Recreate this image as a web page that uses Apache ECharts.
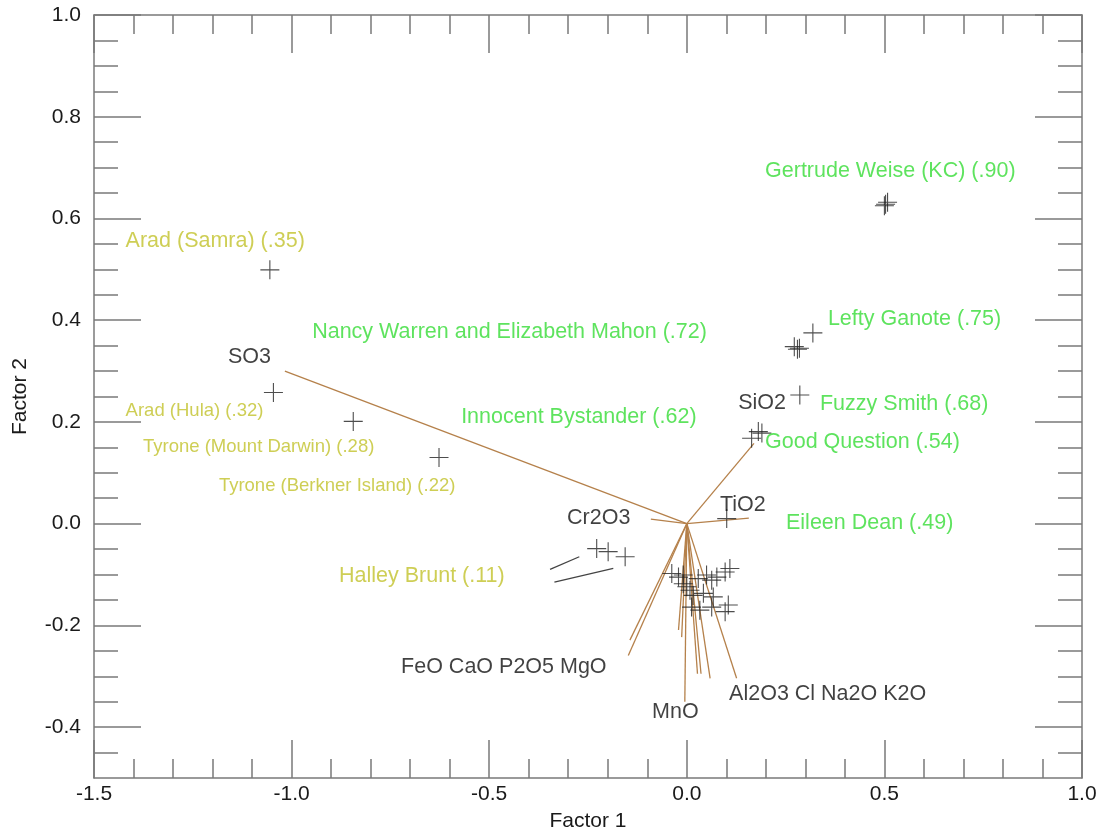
<!DOCTYPE html>
<html>
<head>
<meta charset="utf-8">
<script src="https://cdn.jsdelivr.net/npm/echarts@6/dist/echarts.min.js"></script>
<style>html,body{margin:0;padding:0;background:#fff}#c{width:1099px;height:830px}</style>
</head>
<body>
<div id="c"></div>
<script>
// ---- data ----
const yMajorTicks = [-0.4, -0.2, 0.0, 0.2, 0.4, 0.6, 0.8, 1.0];
const samplePoints = [
  [0.500, 0.625], [0.508, 0.632], [0.503, 0.628],
  [0.319, 0.375], [0.272, 0.348], [0.280, 0.343], [0.285, 0.345],
  [0.286, 0.253],
  [0.164, 0.168], [0.181, 0.181], [0.190, 0.178],
  [0.101, 0.010],
  [-1.055, 0.499], [-1.046, 0.258], [-0.844, 0.201], [-0.627, 0.130],
  [-0.228, -0.049], [-0.199, -0.055], [-0.156, -0.065],
  [-0.038, -0.098], [-0.021, -0.105], [-0.009, -0.101], [-0.009, -0.118],
  [0.008, -0.131], [0.029, -0.108], [0.050, -0.101], [0.063, -0.111],
  [0.076, -0.105], [0.109, -0.088], [0.097, -0.095], [0.016, -0.141],
  [0.042, -0.137], [0.067, -0.144], [0.012, -0.164], [0.033, -0.170],
  [0.063, -0.164], [0.105, -0.160], [0.097, -0.173], [0.000, -0.124]
];
const oxideNames = ['SO3', 'SiO2', 'TiO2', 'Cr2O3', 'FeO', 'CaO', 'P2O5', 'MgO', 'MnO', 'Al2O3', 'Cl', 'Na2O', 'K2O'];
const oxideLoadings = [
  [-1.017, 0.300], [0.170, 0.158], [0.157, 0.011], [-0.091, 0.009],
  [-0.148, -0.259], [-0.144, -0.229], [-0.021, -0.209], [-0.013, -0.223],
  [-0.005, -0.350], [0.027, -0.295], [0.036, -0.295], [0.059, -0.304], [0.126, -0.304]
];
const greySegments = [
  [[-0.346, -0.090], [-0.272, -0.065]],
  [[-0.335, -0.115], [-0.186, -0.088]]
];
const greenLabels = [
  ['Gertrude Weise (KC) (.90)', 0.198, 0.693],
  ['Lefty Ganote (.75)', 0.357, 0.402],
  ['Nancy Warren and Elizabeth Mahon (.72)', -0.948, 0.377],
  ['Fuzzy Smith (.68)', 0.337, 0.235],
  ['Innocent Bystander (.62)', -0.571, 0.209],
  ['Good Question (.54)', 0.198, 0.160],
  ['Eileen Dean (.49)', 0.251, 0.001]
];
const yellowLabelsLarge = [
  ['Arad (Samra) (.35)', -1.420, 0.556],
  ['Halley Brunt (.11)', -0.880, -0.103]
];
const yellowLabelsSmall = [
  ['Arad (Hula) (.32)', -1.420, 0.222],
  ['Tyrone (Mount Darwin) (.28)', -1.376, 0.151],
  ['Tyrone (Berkner Island) (.22)', -1.184, 0.074]
];
const oxideLabels = [
  ['SO3', -1.161, 0.327],
  ['SiO2', 0.130, 0.237],
  ['TiO2', 0.084, 0.036],
  ['Cr2O3', -0.303, 0.011],
  ['FeO CaO P2O5 MgO', -0.723, -0.282],
  ['MnO', -0.088, -0.371],
  ['Al2O3 Cl Na2O K2O', 0.107, -0.335]
];

// ---- chart ----
const FONT = "'Liberation Sans', Arial, Helvetica, sans-serif";
const AX = '#7a7a7a';
const yMinor = [];
for (let i = 1; i < 30; i++) yMinor.push(+(-0.5 + i * 0.05).toFixed(2));

function labelSeries(arr, color, size) {
  return {
    type: 'scatter', symbolSize: 0, silent: true, z: 5,
    data: arr.map(d => ({ name: d[0], value: [d[1], d[2]] })),
    label: {
      show: true, position: 'right', distance: 0, formatter: p => p.name,
      color: color, fontSize: size, fontFamily: FONT
    }
  };
}

const xBase = {
  type: 'value', min: -1.5, max: 1.0, interval: 0.5,
  axisLine: { show: true, onZero: false, lineStyle: { color: AX, width: 1.5 } },
  axisTick: { show: true, inside: true, length: 38, lineStyle: { color: AX, width: 1.5 } },
  minorTick: { show: true, splitNumber: 5, length: 19, lineStyle: { color: AX, width: 1.5 } },
  splitLine: { show: false }
};
const yRange = { type: 'value', min: -0.5, max: 1.0, splitLine: { show: false } };

const chart = echarts.init(document.getElementById('c'));
chart.setOption({
  animation: false,
  backgroundColor: '#fff',
  grid: { left: 94, right: 17, top: 15, bottom: 52, show: false, outerBoundsMode: 'none', containLabel: false },
  xAxis: [
    Object.assign({}, xBase, {
      position: 'bottom', name: 'Factor 1', nameLocation: 'middle', nameGap: 33,
      nameTextStyle: { color: '#1a1a1a', fontSize: 21, fontFamily: FONT },
      axisLabel: { color: '#1a1a1a', fontSize: 21, fontFamily: FONT, margin: 6,
        formatter: v => v.toFixed(1) }
    }),
    Object.assign({}, xBase, { position: 'top', axisLabel: { show: false } })
  ],
  yAxis: [
    Object.assign({}, yRange, {
      position: 'left', name: 'Factor 2', nameLocation: 'middle', nameGap: 63, nameRotate: 90,
      nameTextStyle: { color: '#1a1a1a', fontSize: 21, fontFamily: FONT },
      axisLine: { show: true, onZero: false, lineStyle: { color: AX, width: 1.5 } },
      axisTick: { show: true, inside: true, length: 47, customValues: yMajorTicks, lineStyle: { color: AX, width: 1.5 } },
      axisLabel: { show: true, customValues: yMajorTicks, color: '#1a1a1a', fontSize: 21, fontFamily: FONT, margin: 13,
        formatter: v => v.toFixed(1) }
    }),
    Object.assign({}, yRange, {
      position: 'left',
      axisLine: { show: false, onZero: false },
      axisTick: { show: true, inside: true, length: 24, customValues: yMinor, lineStyle: { color: AX, width: 1.5 } },
      axisLabel: { show: false }
    }),
    Object.assign({}, yRange, {
      position: 'right',
      axisLine: { show: true, onZero: false, lineStyle: { color: AX, width: 1.5 } },
      axisTick: { show: true, inside: true, length: 47, customValues: yMajorTicks, lineStyle: { color: AX, width: 1.5 } },
      axisLabel: { show: false }
    }),
    Object.assign({}, yRange, {
      position: 'right',
      axisLine: { show: false, onZero: false },
      axisTick: { show: true, inside: true, length: 24, customValues: yMinor, lineStyle: { color: AX, width: 1.5 } },
      axisLabel: { show: false }
    })
  ],
  series: [
    {
      type: 'lines', coordinateSystem: 'cartesian2d', silent: true, z: 2,
      lineStyle: { color: '#b5814b', width: 1.3, opacity: 1 },
      data: oxideLoadings.map((p, i) => ({ name: oxideNames[i], coords: [[0, 0], p] }))
    },
    {
      type: 'lines', coordinateSystem: 'cartesian2d', silent: true, z: 2,
      lineStyle: { color: '#444', width: 1.3, opacity: 1 },
      data: greySegments.map(s => ({ coords: s }))
    },
    {
      type: 'scatter', z: 3, silent: true,
      symbol: 'path://M0,10L20,10M10,0L10,20', symbolSize: 19,
      itemStyle: { color: 'rgba(0,0,0,0)', borderColor: '#222', borderWidth: 1.1 },
      data: samplePoints
    },
    labelSeries(greenLabels, '#36dc36', 21.5),
    labelSeries(yellowLabelsLarge, '#c2c22a', 21.5),
    labelSeries(yellowLabelsSmall, '#c2c22a', 18.5),
    labelSeries(oxideLabels, '#111', 21.5)
  ]
});
</script>
</body>
</html>
